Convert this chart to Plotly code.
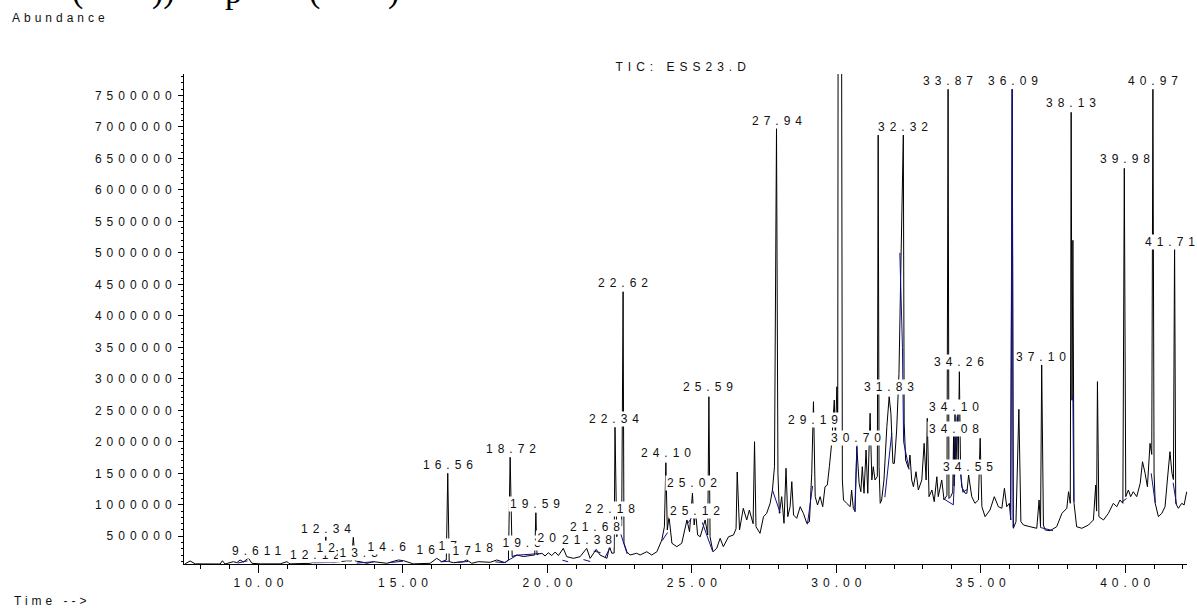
import plotly.graph_objects as go

# ---------------- data ----------------
tic_time = [
    7.45, 7.63, 7.81, 8.67, 8.75, 8.84, 9.13, 9.25, 9.36, 9.48, 9.65, 9.77, 10.06, 10.75, 10.98, 11.09,
    11.79, 11.90, 12.25, 12.33, 12.39, 12.59, 13.06, 13.22, 13.28, 13.35, 13.52, 13.75, 13.98, 14.44,
    14.84, 15.02, 15.36, 15.94, 16.17, 16.34, 16.50, 16.55, 16.60, 16.75, 17.09, 17.21, 17.38, 17.61,
    18.02, 18.25, 18.54, 18.65, 18.71, 18.78, 18.94, 19.17, 19.40, 19.56, 19.60, 19.64, 19.69, 19.81,
    19.92, 20.03, 20.15, 20.27, 20.38, 20.55, 20.67, 20.90, 21.13, 21.36, 21.48, 21.69, 21.82, 22.06,
    22.15, 22.23, 22.31, 22.34, 22.40, 22.46, 22.57, 22.62, 22.65, 22.75, 22.86, 23.09, 23.21, 23.44,
    23.61, 23.79, 23.96, 24.05, 24.10, 24.15, 24.21, 24.31, 24.48, 24.65, 24.83, 24.92, 25.02, 25.08,
    25.13, 25.20, 25.29, 25.46, 25.55, 25.59, 25.63, 25.73, 25.86, 25.98, 26.09, 26.27, 26.44, 26.53,
    26.57, 26.65, 26.78, 26.90, 26.99, 27.12, 27.17, 27.22, 27.36, 27.48, 27.59, 27.71, 27.79, 27.86,
    27.93, 27.98, 28.03, 28.11, 28.19, 28.26, 28.32, 28.40, 28.46, 28.52, 28.63, 28.75, 28.86, 28.98,
    29.07, 29.15, 29.21, 29.27, 29.35, 29.44, 29.53, 29.61, 29.69, 29.76, 29.84, 29.93, 29.97, 30.02,
    30.05, 30.07, 30.17, 30.21, 30.25, 30.36, 30.48, 30.53, 30.59, 30.65, 30.71, 30.79, 30.85, 30.90,
    30.96, 31.03, 31.09, 31.17, 31.23, 31.28, 31.34, 31.42, 31.45, 31.48, 31.52, 31.57, 31.65, 31.75,
    31.83, 31.89, 31.96, 32.01, 32.09, 32.17, 32.24, 32.32, 32.35, 32.40, 32.50, 32.55, 32.61, 32.67,
    32.76, 32.84, 32.96, 33.04, 33.11, 33.15, 33.21, 33.31, 33.39, 33.48, 33.53, 33.65, 33.73, 33.83,
    33.87, 33.90, 33.96, 34.03, 34.06, 34.08, 34.11, 34.14, 34.19, 34.22, 34.26, 34.30, 34.34, 34.46,
    34.52, 34.58, 34.69, 34.80, 34.92, 34.98, 35.04, 35.15, 35.32, 35.47, 35.61, 35.73, 35.82, 35.90,
    35.99, 36.04, 36.09, 36.13, 36.22, 36.32, 36.39, 36.48, 36.71, 36.94, 37.02, 37.07, 37.11, 37.17,
    37.23, 37.40, 37.63, 37.81, 37.98, 38.04, 38.10, 38.13, 38.16, 38.19, 38.23, 38.32, 38.50, 38.73,
    38.90, 38.98, 39.01, 39.04, 39.09, 39.25, 39.42, 39.59, 39.71, 39.82, 39.92, 39.97, 40.02, 40.11,
    40.19, 40.28, 40.40, 40.52, 40.60, 40.69, 40.77, 40.86, 40.92, 40.96, 41.00, 41.04, 41.15, 41.27,
    41.38, 41.46, 41.55, 41.62, 41.67, 41.71, 41.75, 41.84, 41.96, 42.04, 42.13,
]
tic_abundance = [
    60000, 108000, 62000, 60000, 112000, 60000, 97000, 81000, 124000, 92000, 155000, 71000, 62000, 62000, 97000, 62000,
    71000, 87000, 92000, 493000, 92000, 81000, 112000, 108000, 484000, 108000, 97000, 71000, 97000, 71000,
    124000, 112000, 62000, 71000, 150000, 97000, 124000, 1500000, 97000, 81000, 97000, 124000, 71000, 97000,
    87000, 124000, 81000, 124000, 1754000, 178000, 203000, 178000, 194000, 203000, 874000, 203000, 219000, 230000,
    187000, 239000, 194000, 250000, 194000, 309000, 176000, 150000, 176000, 309000, 150000, 293000, 203000, 150000,
    335000, 230000, 235000, 2230000, 493000, 652000, 664000, 4383000, 392000, 255000, 203000, 230000, 203000, 255000,
    203000, 255000, 441000, 652000, 1668000, 600000, 811000, 389000, 335000, 389000, 759000, 573000, 1183000, 679000,
    886000, 520000, 493000, 759000, 520000, 2716000, 493000, 255000, 309000, 468000, 335000, 493000, 520000, 620000,
    1521000, 600000, 944000, 759000, 917000, 700000, 2002000, 652000, 547000, 811000, 865000, 1024000, 1235000, 1605000,
    6978000, 1500000, 865000, 1129000, 706000, 1580000, 811000, 970000, 1367000, 838000, 786000, 970000, 865000, 706000,
    732000, 1500000, 2637000, 1129000, 997000, 1129000, 970000, 1287000, 1314000, 1605000, 1976000, 2664000, 2030000, 2875000,
    2300000, 12000000, 12000000, 1394000, 1076000, 1024000, 970000, 1235000, 944000, 890000, 1922000, 1341000, 1208000, 1605000,
    1183000, 1870000, 1183000, 2453000, 1394000, 1605000, 1394000, 1450000, 6870000, 1605000, 1024000, 1076000, 1394000, 2240000,
    2716000, 2453000, 1658000, 1658000, 2188000, 3087000, 4900000, 6870000, 2300000, 1711000, 1580000, 1790000, 1394000, 1287000,
    1525000, 1235000, 1394000, 1976000, 1394000, 2373000, 1129000, 1235000, 1050000, 1446000, 1129000, 1394000, 1076000, 1150000,
    7597000, 1100000, 1129000, 1200000, 2100000, 1300000, 2450000, 1500000, 2400000, 1700000, 3113000, 1600000, 1287000, 1183000,
    1183000, 1473000, 1129000, 1024000, 1076000, 2056000, 970000, 811000, 917000, 1129000, 970000, 944000, 1262000, 970000,
    1024000, 759000, 7597000, 627000, 732000, 2516000, 732000, 679000, 652000, 627000, 1076000, 652000, 3220000, 679000,
    600000, 589000, 652000, 865000, 944000, 1208000, 1024000, 7232000, 2660000, 5200000, 1024000, 652000, 627000, 679000,
    759000, 1314000, 900000, 2955000, 811000, 759000, 865000, 1024000, 970000, 1076000, 1024000, 6343000, 1129000, 1235000,
    1129000, 1208000, 1129000, 1341000, 1684000, 1500000, 1287000, 1976000, 1800000, 7597000, 1500000, 1024000, 811000, 865000,
    970000, 1394000, 1843000, 1500000, 1400000, 5177000, 1024000, 944000, 1024000, 997000, 1208000,
]

# integration baselines (blue), one list of (time, abundance) pairs per segment
baseline_segments = [
    [(9.28, 75000), (9.62, 110000)],
    [(11.90, 80000), (12.60, 85000)],
    [(13.40, 75000), (14.00, 95000)],
    [(14.50, 80000), (15.00, 105000)],
    [(16.30, 95000), (16.62, 105000)],
    [(16.85, 85000), (17.25, 100000)],
    [(18.20, 95000), (18.50, 80000), (18.95, 200000), (19.72, 225000)],
    [(20.52, 120000), (20.72, 95000)],
    [(21.25, 130000), (21.48, 100000)],
    [(21.60, 265000), (21.84, 240000)],
    [(22.00, 170000), (22.17, 320000)],
    [(22.46, 652000), (22.76, 220000)],
    [(23.97, 430000), (24.16, 560000)],
    [(24.84, 700000), (25.05, 820000)],
    [(25.36, 720000), (25.72, 260000)],
    [(27.79, 1235000), (28.06, 870000)],
    [(29.00, 690000), (29.18, 1300000)],
    [(30.64, 900000), (30.72, 2000000)],
    [(31.68, 1120000), (31.92, 2140000)],
    [(32.20, 5000000), (32.29, 3500000), (32.33, 2000000), (32.52, 1560000)],
    [(33.70, 1100000), (34.05, 1000000), (34.20, 2500000)],
    [(34.30, 1500000), (34.38, 1200000), (34.55, 1250000)],
    [(36.03, 760000), (36.09, 7597000), (36.12, 640000)],
    [(37.06, 640000), (37.50, 590000)],
    [(38.19, 2750000), (38.22, 1050000)],
    [(39.90, 1050000), (40.05, 1100000)],
    [(40.90, 1500000), (41.04, 1030000)],
    [(41.66, 1350000), (41.78, 1000000)],
]

peak_labels = ["9.611", "12.12", "12.34", "12", "13.3", "14.6", "16", "17", "17", "18",
               "16.56", "18.72", "19.3", "19.59", "20", "21.38", "21.68", "22.18", "22.34", "22.62",
               "24.10", "25.02", "25.12", "25.59", "27.94", "29.19", "30.70", "31.83", "32.32", "33.87",
               "34.08", "34.10", "34.26", "34.55", "36.09", "37.10", "38.13", "39.98", "40.97", "41.71"]
label_time = [9.92, 11.96, 12.34, 12.34, 13.48, 14.45, 15.80, 16.56, 17.05, 17.81,
              16.56, 18.74, 19.13, 19.57, 19.99, 21.38, 21.65, 22.17, 22.31, 22.60,
              24.11, 25.01, 25.12, 25.56, 27.93, 29.20, 30.69, 31.81, 32.31, 33.87,
              34.06, 34.08, 34.25, 34.55, 36.10, 37.09, 38.13, 39.98, 40.97, 41.54]
label_abundance = [266000, 203000, 616000, 314000, 235000, 330000, 282000, 346000, 266000, 314000,
                   1632000, 1886000, 393000, 1013000, 473000, 441000, 647000, 933000, 2362000, 4522000,
                   1822000, 1346000, 902000, 2870000, 7094000, 2346000, 2061000, 2870000, 6999000, 7729000,
                   2204000, 2553000, 3267000, 1600000, 7729000, 3347000, 7380000, 6491000, 7729000, 5178000]

x_range = [7.42, 42.14]
y_range = [60000, 7840000]

# ---------------- figure ----------------
SANS = "Liberation Sans, Arial, sans-serif"
TXT = "#111111"

fig = go.Figure()
fig.add_trace(go.Scatter(x=tic_time, y=tic_abundance, mode="lines",
                         line=dict(color="black", width=1, simplify=False),
                         hoverinfo="skip", showlegend=False))

bx, by = [], []
for seg in baseline_segments:
    for t, a in seg:
        bx.append(t)
        by.append(a)
    bx.append(None)
    by.append(None)
fig.add_trace(go.Scatter(x=bx, y=by, mode="lines",
                         line=dict(color="#10108a", width=1, simplify=False),
                         hoverinfo="skip", showlegend=False, connectgaps=False))

annotations = []
for txt, t, a in zip(peak_labels, label_time, label_abundance):
    annotations.append(dict(x=t, y=a, xref="x", yref="y", text=txt, showarrow=False,
                            xanchor="center", yanchor="middle", bgcolor="white", borderpad=0,
                            font=dict(family=SANS, size=12, color=TXT)))

annotations += [
    dict(x=-0.1735, y=1.1133, xref="paper", yref="paper", text="Abundance", showarrow=False,
         xanchor="left", yanchor="middle", align="left", font=dict(family=SANS, size=12, color=TXT)),
    dict(x=0.4955, y=1.0143, xref="paper", yref="paper", text="TIC: ESS23.D", showarrow=False,
         xanchor="center", yanchor="middle", font=dict(family=SANS, size=12, color=TXT)),
    dict(x=-0.1715, y=-0.0755, xref="paper", yref="paper", text="Time -->", showarrow=False,
         xanchor="left", yanchor="middle", align="left", font=dict(family=SANS, size=12, color=TXT)),
]

# fragments of the page caption cut off at the top edge
for ch, xp in [("(", -0.1057), ("))", -0.0209), ("p", 0.0489), ("(", 0.1306), (")", 0.2084)]:
    annotations.append(dict(x=xp, y=1.1286, xref="paper", yref="paper", text=ch, showarrow=False,
                            xanchor="center", yanchor="bottom", borderpad=0,
                            font=dict(family="Liberation Serif, Times New Roman, serif", size=34, color="black")))

axis_font = dict(family=SANS, size=12, color=TXT)
fig.update_layout(
    width=1197, height=608,
    margin=dict(l=184, r=10, t=74, b=44, pad=0),
    paper_bgcolor="white", plot_bgcolor="white",
    showlegend=False,
    annotations=annotations,
    xaxis=dict(range=x_range, showline=True, linecolor="black", linewidth=1, mirror=False,
               ticks="outside", ticklen=8, tickwidth=1, tickcolor="black",
               tick0=0, dtick=5, tickformat=".2f", showgrid=False, zeroline=False,
               tickfont=axis_font,
               minor=dict(dtick=1, tick0=0, ticks="outside", ticklen=4, tickcolor="black", showgrid=False)),
    yaxis=dict(range=y_range, showline=True, linecolor="black", linewidth=1, mirror=False,
               ticks="outside", ticklen=5, tickwidth=1, tickcolor="black",
               tick0=0, dtick=500000, tickformat="d", showgrid=False, zeroline=False,
               tickfont=axis_font, ticklabelstandoff=4,
               minor=dict(dtick=100000, tick0=0, ticks="outside", ticklen=2, tickcolor="black", showgrid=False)),
)

post_script = """
document.documentElement.style.margin = '0';
document.body.style.margin = '0';
document.body.style.padding = '0';
var gd = document.getElementById('{plot_id}');
function spaceAll(){
  gd.querySelectorAll('text').forEach(function(t){
    var ff = t.style.fontFamily || '';
    if (ff.indexOf('Serif') >= 0) return;
    var s = /[a-z]/.test(t.textContent) ? 4 : 5;
    t.style.letterSpacing = s + 'px';
    var anchor = t.getAttribute('text-anchor') || t.style.textAnchor || 'start';
    var dx = 0;
    if (anchor === 'middle') dx = s / 2; else if (anchor === 'end') dx = s;
    t.setAttribute('dx', dx);
  });
  gd.querySelectorAll('g.annotation').forEach(function(g){
    var t = g.querySelector('text.annotation-text');
    var r = g.querySelector('rect.bg');
    if (!t || !r) return;
    var b = t.getBBox();
    r.setAttribute('x', b.x - 1.5);
    r.setAttribute('width', Math.max(0, b.width - 5 + 3));
  });
}
spaceAll();
gd.on('plotly_afterplot', spaceAll);
"""

fig.write_html("out.html", config={"displayModeBar": False, "staticPlot": True}, post_script=post_script)
